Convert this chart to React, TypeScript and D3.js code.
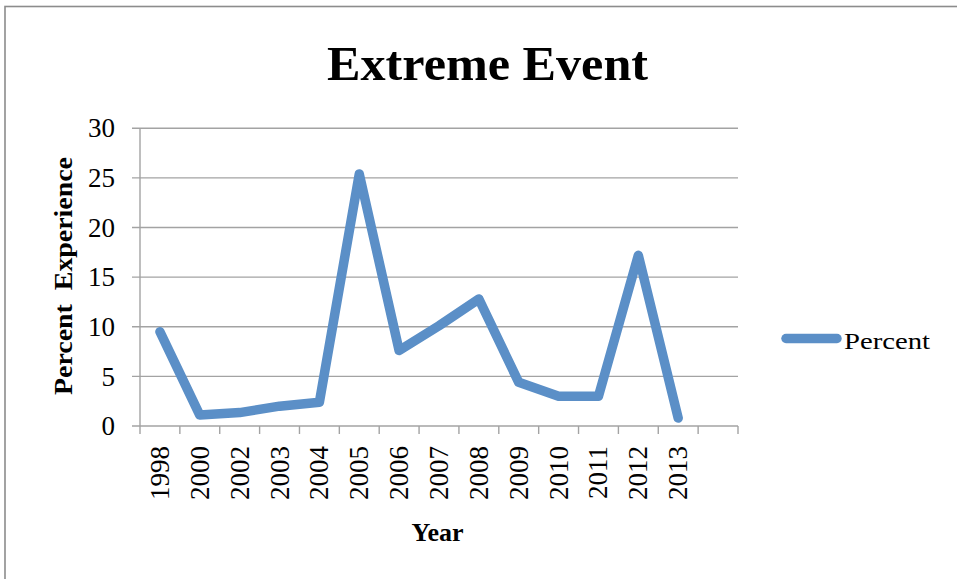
import React from "react";
import * as d3 from "d3";

// Share of respondents reporting an extreme event, by survey year
const years = ["1998", "2000", "2002", "2003", "2004", "2005", "2006", "2007", "2008", "2009", "2010", "2011", "2012", "2013"];
const percent = [9.5, 1.1, 1.35, 2.0, 2.4, 25.4, 7.6, 10.1, 12.8, 4.4, 3.0, 3.0, 17.2, 0.8];
const yTicks = [0, 5, 10, 15, 20, 25, 30];

const W = 957;
const H = 579;
const plot = { left: 140, right: 738, top: 128.3, bottom: 426 };
const FONT = "'Liberation Serif', 'Times New Roman', serif";
const LINE = "#5b8fc7";
const GRID = "#a3a3a3";

export default function App() {
  // one spare empty slot after the last year, like the category axis shows
  const domain = [...years, ""];
  const x = d3.scaleBand<string>().domain(domain).range([plot.left, plot.right]);
  const y = d3.scaleLinear().domain([0, 30]).range([plot.bottom, plot.top]);

  const rows = years.map((yr, i) => ({ yr, v: percent[i] }));
  const line = d3
    .line<{ yr: string; v: number }>()
    .x((d) => (x(d.yr) as number) + x.bandwidth() / 2)
    .y((d) => y(d.v));

  const boundaries = domain.map((c) => x(c) as number).concat([plot.right]);

  return (
    <svg
      width={W}
      height={H}
      style={{ position: "absolute", left: 0, top: 0, background: "#fff" }}
    >
      {/* chart frame */}
      <rect x={5} y={6.5} width={W + 20} height={H + 20} fill="#fff" stroke="#8c8c8c" strokeWidth={1.6} />

      {/* title */}
      <text
        x={487.5}
        y={79.5}
        textAnchor="middle"
        fontFamily={FONT}
        fontWeight="bold"
        fontSize={48}
        textLength={321}
        lengthAdjust="spacingAndGlyphs"
      >
        Extreme Event
      </text>

      {/* horizontal gridlines with y tick marks */}
      {yTicks.map((t) => (
        <g key={t}>
          <line x1={plot.left - 8} x2={plot.right} y1={y(t)} y2={y(t)} stroke={GRID} strokeWidth={1.4} />
          <text
            x={115}
            y={y(t)}
            dy="0.34em"
            textAnchor="end"
            fontFamily={FONT}
            fontSize={27}
            fill="#000"
          >
            {t}
          </text>
        </g>
      ))}

      {/* value axis line */}
      <line x1={plot.left} x2={plot.left} y1={plot.top} y2={plot.bottom} stroke={GRID} strokeWidth={1.4} />

      {/* category tick marks */}
      {boundaries.map((bx, i) => (
        <line key={i} x1={bx} x2={bx} y1={plot.bottom} y2={plot.bottom + 8} stroke={GRID} strokeWidth={1.4} />
      ))}

      {/* rotated category labels */}
      {years.map((yr) => {
        const cx = (x(yr) as number) + x.bandwidth() / 2;
        return (
          <text
            key={yr}
            transform={`translate(${cx + 9},${plot.bottom + 20}) rotate(-90)`}
            textAnchor="end"
            fontFamily={FONT}
            fontSize={27}
            fill="#000"
          >
            {yr}
          </text>
        );
      })}

      {/* axis titles */}
      <text
        x={437.5}
        y={541}
        textAnchor="middle"
        fontFamily={FONT}
        fontWeight="bold"
        fontSize={25}
        textLength={52}
        lengthAdjust="spacingAndGlyphs"
      >
        Year
      </text>
      <text
        transform="translate(72,276) rotate(-90)"
        textAnchor="middle"
        fontFamily={FONT}
        fontWeight="bold"
        fontSize={26}
        textLength={238}
        lengthAdjust="spacingAndGlyphs"
        style={{ whiteSpace: "pre" }}
      >
        {"Percent  Experience"}
      </text>

      {/* series */}
      <path
        d={line(rows) ?? ""}
        fill="none"
        stroke={LINE}
        strokeWidth={9.5}
        strokeLinejoin="round"
        strokeLinecap="round"
      />

      {/* legend */}
      <line x1={786} x2={837} y1={338.5} y2={338.5} stroke={LINE} strokeWidth={9.5} strokeLinecap="round" />
      <text
        x={844}
        y={349}
        fontFamily={FONT}
        fontSize={24}
        textLength={86}
        lengthAdjust="spacingAndGlyphs"
      >
        Percent
      </text>
    </svg>
  );
}
